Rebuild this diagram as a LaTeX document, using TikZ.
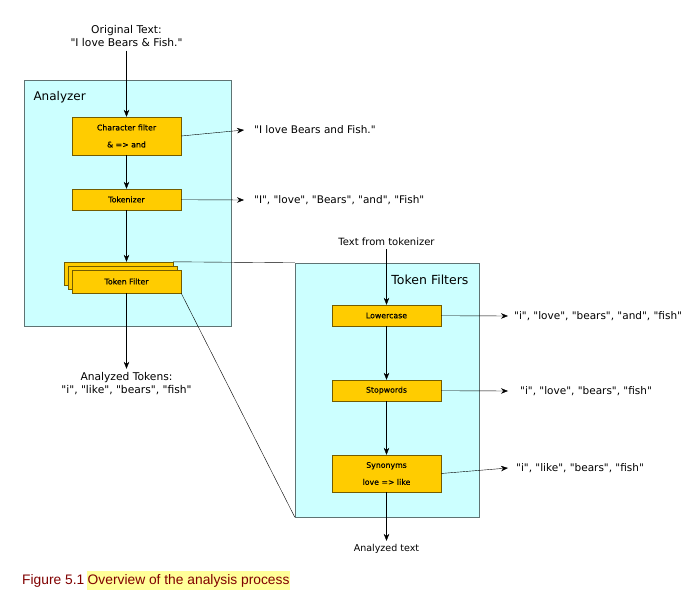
\documentclass[tikz,border=0pt]{standalone}
\usepackage{fontspec}
\setmainfont{DejaVu Sans}[Ligatures=TeXOff]
\newfontfamily\boxfont{DejaVu Sans}[Ligatures=TeXOff,FakeBold=0.3]
\newfontfamily\capfont{Liberation Sans}[Ligatures=TeXOff]
\usetikzlibrary{arrows.meta}
\definecolor{panelcyan}{RGB}{204,255,255}
\definecolor{paneledge}{RGB}{95,115,115}
\definecolor{filtergold}{RGB}{255,204,0}
\definecolor{filteredge}{RGB}{115,92,0}
\definecolor{capred}{RGB}{128,0,0}
\definecolor{capyellow}{RGB}{255,255,153}
\tikzset{
	% boxes for the analysis steps and the two grey-edged panels
	filter box/.style={draw=filteredge,fill=filtergold,minimum width=109pt,inner sep=0pt,align=center,font=\boxfont\fontsize{7.8}{9}\selectfont},
	panel/.style={draw=paneledge,fill=panelcyan},
	out text/.style={anchor=west,inner sep=0pt,font=\fontsize{10.5}{12}\selectfont}
}

\begin{document}
\begin{tikzpicture}[x=1pt,y=-1pt,>={Stealth[length=7pt,width=5.5pt]},font=\fontsize{10.7}{13}\selectfont]
\useasboundingbox (0,0) rectangle (683,601);

% the two panels
\node[panel, minimum width=207pt, minimum height=246pt] (analyzer) at (127.5, 203) {};
\node[anchor=west, font=\fontsize{12}{14}\selectfont] at (30, 97) {Analyzer};
\node[panel, minimum width=184pt, minimum height=254pt] (filters) at (387, 390) {};
\node[anchor=east, font=\fontsize{12.5}{14}\selectfont] at (472, 280) {Token Filters};

% analyzer steps
\node[align=center] (orig) at (126.5, 36.5) {Original Text:\\"I love Bears \& Fish."};
\node[filter box, minimum height=38pt] (char) at (126.5, 136) {Character filter\\[8pt]\& => and};
\node[filter box, minimum height=21pt] (tok) at (126.5, 199.5) {Tokenizer};
\node[filter box, minimum height=23pt] (tf3) at (118.5, 273.5) {};
\node[filter box, minimum height=23pt] (tf2) at (122.5, 277.5) {};
\node[filter box, minimum height=23pt] (tf) at (126.5, 281.5) {Token Filter};
\node[align=center] (atok) at (126.5, 383.5) {Analyzed Tokens:\\"i", "like", "bears", "fish"};

\node[out text] (charout) at (244, 130) {\hspace{10pt}"I love Bears and Fish."};
\node[out text] (tokout) at (244, 200) {\hspace{10pt}"I", "love", "Bears", "and", "Fish"};

% token filter steps
\node[font=\fontsize{10}{12}\selectfont] (tftext) at (386.5, 242) {Text from tokenizer};
\node[filter box, minimum height=21pt] (lower) at (386.5, 315.5) {Lowercase};
\node[filter box, minimum height=21pt] (stop) at (386.5, 390.5) {Stopwords};
\node[filter box, minimum height=37pt] (syn) at (386.5, 473.5) {Synonyms\\[8pt]love => like};
\node[font=\fontsize{9.5}{12}\selectfont] (atext) at (386.5, 549) {Analyzed text};

\node[out text] (lowout) at (508, 316) {\hspace{6pt}"i", "love", "bears", "and", "fish"};
\node[out text] (stopout) at (508, 391) {\hspace{12pt}"i", "love", "bears", "fish"};
\node[out text] (synout) at (508, 468) {\hspace{8pt}"i", "like", "bears", "fish"};

\path[->] (orig) edge (char)
          (char) edge (tok)
          (tok) edge (tok |- tf3.north)
          (tf) edge (atok)
          (char.east) edge (charout.west)
          (tok) edge (tokout.west)
          (tftext) edge (lower)
          (lower) edge (stop)
          (stop) edge (syn)
          (syn) edge (atext)
          (lower) edge (lowout.west)
          (stop) edge (stopout.west)
          (syn.east) edge (synout.west);
\draw (tf3.north east) -- (filters.north west)
      (tf.south east) -- (filters.south west);

% caption
\node[anchor=base west, inner sep=0pt, text=capred, font=\capfont\fontsize{13.8}{15}\selectfont] (fig) at (22, 584) {Figure 5.1};
\node[anchor=base west, inner xsep=1pt, inner ysep=3.5pt, fill=capyellow, text=capred, font=\capfont\fontsize{13.8}{15}\selectfont] (cap) at ([xshift=2pt]fig.base east) {Overview of the analysis process};
\end{tikzpicture}
\end{document}
